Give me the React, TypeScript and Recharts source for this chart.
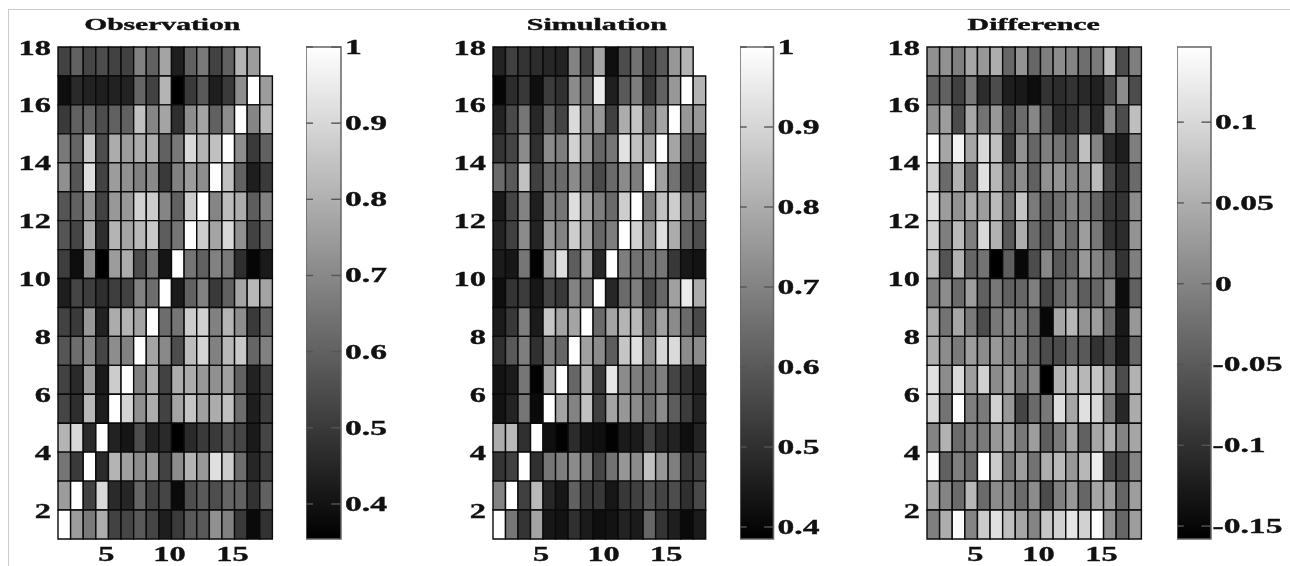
import React from 'react';
import { ComposedChart, Scatter, XAxis, YAxis, ReferenceArea, ReferenceLine } from 'recharts';

// rows run top to bottom as in the picture: first row is y 17-18, last is y 1-2
const observation: (number | null)[][] = [
  [.52,.60,.53,.55,.52,.52,.68,.60,.77,.43,.60,.66,.52,.60,.81,.75,null],
  [.39,.46,.44,.43,.44,.44,.61,.52,.81,.35,.50,.58,.43,.50,.71,1,.75],
  [.50,.60,.61,.55,.60,.60,.84,.69,.77,.47,.71,.77,.60,.71,1,.69,.82],
  [.66,.61,.86,.55,.79,.75,.79,.79,.60,.66,.90,.81,.84,1,.71,.50,.60],
  [.72,.57,.92,.52,.75,.72,.68,.70,.50,.68,.75,.71,1,.84,.60,.43,.50],
  [.57,.60,.73,.52,.74,.74,.88,.87,.69,.60,.87,1,.69,.83,.79,.59,.68],
  [.57,.53,.79,.47,.81,.77,.82,.86,.59,.65,1,.87,.77,.90,.72,.52,.60],
  [.51,.39,.71,.35,.75,.79,.55,.65,.41,1,.65,.60,.68,.66,.47,.37,.42],
  [.43,.53,.51,.47,.51,.52,.68,.63,1,.42,.60,.68,.50,.60,.77,.82,.77],
  [.52,.50,.74,.44,.79,.81,.77,1,.63,.65,.87,.88,.68,.81,.71,.50,.60],
  [.57,.63,.70,.53,.71,.68,1,.77,.70,.55,.83,.89,.68,.82,.86,.61,.68],
  [.52,.46,.75,.42,.87,1,.68,.79,.52,.79,.79,.74,.72,.76,.60,.44,.51],
  [.53,.47,.82,.43,1,.89,.72,.79,.52,.77,.85,.76,.79,.84,.63,.43,.51],
  [.81,.90,.46,1,.44,.41,.55,.44,.46,.35,.46,.50,.50,.57,.53,.42,.53],
  [.65,.50,1,.46,.81,.76,.71,.74,.52,.71,.81,.74,.92,.87,.63,.45,.51],
  [.75,1,.52,.90,.46,.45,.61,.52,.53,.38,.55,.58,.55,.61,.60,.48,.60],
  [1,.75,.66,.79,.52,.53,.58,.53,.43,.50,.58,.58,.72,.68,.50,.38,.48],
];

const simulation: (number | null)[][] = [
  [.47,.54,.51,.49,.48,.47,.70,.55,.78,.42,.57,.66,.54,.60,.75,.82,null],
  [.40,.49,.52,.42,.53,.50,.72,.64,.95,.46,.60,.69,.52,.62,.75,1,.82],
  [.47,.56,.67,.48,.62,.55,.91,.72,.75,.54,.80,.86,.67,.78,1,.75,.75],
  [.51,.55,.72,.50,.72,.69,.89,.75,.63,.67,.93,.85,.78,1,.78,.62,.60],
  [.64,.60,.85,.54,.64,.64,.72,.66,.56,.64,.72,.69,1,.77,.66,.53,.54],
  [.45,.55,.70,.46,.69,.67,.92,.78,.69,.64,.88,1,.69,.85,.88,.69,.66],
  [.47,.54,.72,.47,.75,.70,.88,.78,.63,.69,1,.89,.75,.92,.80,.62,.57],
  [.45,.44,.67,.39,.78,.92,.61,.78,.48,1,.69,.66,.66,.67,.52,.44,.43],
  [.42,.51,.53,.44,.55,.52,.70,.66,1,.48,.64,.69,.56,.63,.77,.95,.80],
  [.45,.52,.69,.45,.86,.78,.78,1,.64,.78,.82,.83,.66,.77,.72,.64,.56],
  [.50,.60,.69,.50,.69,.63,1,.77,.72,.61,.86,.92,.74,.90,.91,.72,.72],
  [.43,.45,.67,.39,.78,1,.63,.82,.52,.94,.72,.69,.65,.69,.55,.50,.46],
  [.43,.47,.67,.41,1,.78,.70,.85,.54,.78,.75,.72,.65,.72,.61,.53,.47],
  [.80,.83,.50,1,.42,.39,.49,.43,.42,.39,.45,.45,.54,.48,.47,.42,.47],
  [.51,.54,1,.50,.67,.69,.72,.69,.55,.66,.75,.72,.85,.75,.69,.52,.54],
  [.70,1,.54,.83,.48,.44,.62,.52,.52,.44,.52,.54,.59,.55,.57,.50,.56],
  [1,.67,.51,.78,.44,.43,.50,.45,.42,.43,.47,.45,.63,.51,.46,.41,.45],
];

const difference: (number | null)[][] = [
  [.015,.015,-.006,.040,.024,.049,-.036,.018,-.036,-.006,.009,0,-.027,-.012,.070,-.067,-.006],
  [-.042,-.042,-.082,-.015,-.106,-.067,-.122,-.128,-.143,-.097,-.106,-.097,-.109,-.118,-.067,.009,-.067],
  [.015,.030,-.067,.040,-.021,.024,-.067,-.030,.003,-.052,-.103,-.097,-.073,-.115,.003,-.067,.070],
  [.146,.040,.131,.040,.100,.070,-.088,.015,-.036,-.006,-.021,-.036,.070,0,-.106,-.122,-.006],
  [.091,-.030,.055,-.036,.110,.061,-.036,.009,-.042,.015,.018,0,.009,.064,-.073,-.103,-.030],
  [.110,.030,.018,.046,.030,.064,-.027,.076,-.012,-.042,-.027,0,-.006,-.036,-.091,-.097,.009],
  [.091,-.006,.064,-.006,.100,.055,-.052,.049,-.030,-.058,0,-.030,.030,-.015,-.097,-.106,.018],
  [.070,-.058,.055,-.036,-.021,-.158,-.046,-.149,-.067,.003,-.052,-.036,.024,0,-.036,-.097,-.006],
  [-.006,.009,-.030,.030,-.042,-.015,-.042,-.036,-.006,-.076,-.036,-.012,-.046,-.036,0,-.143,-.042],
  [.049,-.021,.040,-.012,-.067,-.015,0,-.012,-.036,-.149,.040,.061,.018,.030,-.030,-.128,.024],
  [.049,.009,-.012,.030,.009,.024,-.006,-.006,-.036,-.067,-.067,-.042,-.052,-.097,-.073,-.128,-.036],
  [.110,.009,.100,.030,.091,.009,.030,-.012,0,-.158,.055,.070,.061,.079,.030,-.067,.055],
  [.100,-.021,.146,-.006,-.012,.091,.024,-.076,-.030,-.015,.106,.040,.110,.100,-.012,-.112,.046],
  [0,.055,-.030,-.006,-.012,.024,.030,-.015,.030,-.046,-.012,.040,-.042,.040,.049,0,.040],
  [.140,-.042,-.006,-.030,.146,.085,-.012,.030,-.021,.049,.064,.024,.061,.125,-.067,-.076,0],
  [.040,0,-.030,.061,-.030,.009,0,-.030,.009,-.067,-.006,.024,-.036,.040,.030,-.036,.030],
  [-.006,.049,.140,0,.085,.110,.070,.040,0,.079,.091,.116,.091,.146,.018,-.036,.030],
];

const xTicks = [5, 10, 15];
const yTicks = [2, 4, 6, 8, 10, 12, 14, 16, 18];
const obsBarTicks = [0.4, 0.5, 0.6, 0.7, 0.8, 0.9, 1];
const simBarTicks = [0.4, 0.5, 0.6, 0.7, 0.8, 0.9, 1];
const diffBarTicks = [-0.15, -0.1, -0.05, 0, 0.05, 0.1];

const FONT = '"Liberation Serif", serif';
const PLOT_TOP = 47;
const PLOT_BOTTOM = 27; // 566 - 539

const gray = (v: number, min: number, max: number) => {
  const g = Math.round(255 * Math.min(1, Math.max(0, (v - min) / (max - min))));
  return `rgb(${g},${g},${g})`;
};

const noMark = () => null;

// the original text is stretched sideways, so scale it rather than letter-space it
function WideText({ x, y, anchor, size = 20, stretch = 1.62, children }: any) {
  return (
    <text
      transform={`translate(${x},${y}) scale(${stretch},1)`}
      textAnchor={anchor}
      fontFamily={FONT}
      fontWeight="bold"
      fontSize={size}
      fill="#111"
      stroke="#111"
      strokeWidth={0.35}
    >
      {children}
    </text>
  );
}

function Heatmap({ left, width, rows, min, max, title, titleStretch, titleShift }: any) {
  const yAxisWidth = 50;
  const centres = rows.flatMap((row: (number | null)[], r: number) =>
    row.map((v, c) => ({ x: c + 1.5, y: 17.5 - r, v })),
  );
  return (
    <div style={{ position: 'absolute', left: left - yAxisWidth, top: 0 }}>
      <ComposedChart
        width={yAxisWidth + width + 4}
        height={566}
        margin={{ top: PLOT_TOP, right: 4, bottom: 0, left: 0 }}
      >
        <XAxis
          type="number"
          dataKey="x"
          domain={[1, 18]}
          ticks={xTicks}
          height={PLOT_BOTTOM}
          axisLine={false}
          tickLine={false}
          interval={0}
          tick={({ x, payload }: any) => (
            <WideText x={x - 2} y={561.5} anchor="middle">{payload.value}</WideText>
          )}
        />
        <YAxis
          type="number"
          dataKey="y"
          domain={[1, 18]}
          ticks={yTicks}
          width={yAxisWidth}
          axisLine={false}
          tickLine={false}
          interval={0}
          tick={({ y, payload }: any) => (
            <WideText x={yAxisWidth - 7} y={y + 7.5} anchor="end" stretch={1.62}>{payload.value}</WideText>
          )}
        />
        {rows.map((row: (number | null)[], r: number) =>
          row.map((v, c) =>
            v === null ? null : (
              <ReferenceArea
                key={`${r}-${c}`}
                x1={c + 1}
                x2={c + 2}
                y1={17 - r}
                y2={18 - r}
                fill={gray(v, min, max)}
                fillOpacity={1}
                stroke="#0a0a0a"
                strokeWidth={1.4}
                ifOverflow="visible"
              />
            ),
          ),
        )}
        <Scatter data={centres} dataKey="y" shape={noMark} isAnimationActive={false} />
        <WideText x={yAxisWidth + width / 2 + titleShift} y={30} anchor="middle" size={16} stretch={titleStretch}>
          {title}
        </WideText>
      </ComposedChart>
    </div>
  );
}

function ColorBar({ left, width, min, max, ticks, id }: any) {
  const labelWidth = 80;
  const ends = [{ x: 0, y: min }, { x: 1, y: max }];
  return (
    <div style={{ position: 'absolute', left, top: 0 }}>
      <ComposedChart
        width={width + labelWidth}
        height={566}
        margin={{ top: PLOT_TOP, right: 0, bottom: PLOT_BOTTOM, left: 0 }}
      >
        <defs>
          <linearGradient id={id} x1="0" y1="0" x2="0" y2="1">
            <stop offset="0%" stopColor="#fff" />
            <stop offset="100%" stopColor="#000" />
          </linearGradient>
        </defs>
        <XAxis type="number" dataKey="x" domain={[0, 1]} hide />
        <YAxis
          type="number"
          dataKey="y"
          orientation="right"
          domain={[min, max]}
          ticks={ticks}
          width={labelWidth}
          axisLine={false}
          tickLine={false}
          interval={0}
          tick={({ y, payload }: any) => (
            <WideText x={width + (payload.value < 0 ? 1.5 : 4)} y={y + 7} anchor="start" stretch={1.68}>
              {payload.value}
            </WideText>
          )}
        />
        <ReferenceArea
          x1={0}
          x2={1}
          y1={min}
          y2={max}
          fill={`url(#${id})`}
          fillOpacity={1}
          stroke="#666"
          strokeWidth={1.5}
          ifOverflow="visible"
        />
        {ticks.map((t: number) => (
          <ReferenceLine
            key={`l${t}`}
            segment={[{ x: 0, y: t }, { x: 0.2, y: t }]}
            stroke="#555"
            strokeWidth={1.4}
          />
        ))}
        {ticks.map((t: number) => (
          <ReferenceLine
            key={`r${t}`}
            segment={[{ x: 0.72, y: t }, { x: 1, y: t }]}
            stroke="#555"
            strokeWidth={1.4}
          />
        ))}
        <Scatter data={ends} dataKey="y" shape={noMark} isAnimationActive={false} />
      </ComposedChart>
    </div>
  );
}

export default function App() {
  return (
    <div
      style={{
        position: 'fixed',
        left: 0,
        top: 0,
        width: 1290,
        height: 566,
        background: '#fff',
        overflow: 'hidden',
        filter: 'blur(0.55px)',
      }}
    >
      <div
        style={{
          position: 'absolute',
          left: 8,
          top: 9,
          right: 0,
          bottom: 0,
          borderLeft: '1px solid #ccc',
          borderTop: '1px solid #ccc',
        }}
      />
      <Heatmap left={57.5} width={214.4} rows={observation} min={0.354} max={1} title="Observation" titleStretch={1.85} titleShift={-3} />
      <ColorBar left={306} width={35} min={0.354} max={1} ticks={obsBarTicks} id="barObs" />

      <Heatmap left={493.3} width={212.7} rows={simulation} min={0.385} max={1} title="Simulation" titleStretch={1.88} titleShift={-2.5} />
      <ColorBar left={740} width={33.5} min={0.385} max={1} ticks={simBarTicks} id="barSim" />

      <Heatmap left={927.3} width={214.4} rows={difference} min={-0.158} max={0.1465} title="Difference" titleStretch={1.87} titleShift={-0.5} />
      <ColorBar left={1176.7} width={34} min={-0.158} max={0.1465} ticks={diffBarTicks} id="barDiff" />
    </div>
  );
}
